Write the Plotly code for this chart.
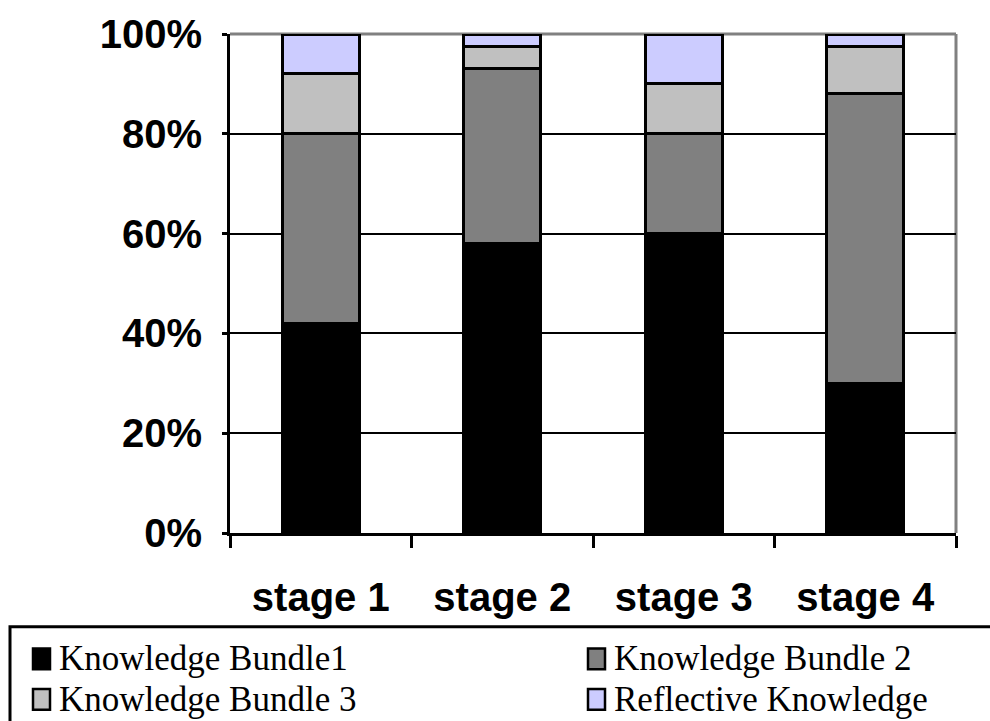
import plotly.graph_objects as go

# Stacked shares per stage (percent)
stages = ["stage 1", "stage 2", "stage 3", "stage 4"]
bundle1 = [42, 58, 60, 30]
bundle2 = [38, 35, 20, 58]
bundle3 = [12, 4.5, 10, 9.5]
reflective = [8, 2.5, 10, 2.5]

series_names = ["Knowledge Bundle1", "Knowledge Bundle 2",
                "Knowledge Bundle 3", "Reflective Knowledge"]
series_colors = ["#000000", "#808080", "#C0C0C0", "#CCCCFF"]
y_ticks = [0, 20, 40, 60, 80, 100]

W, H = 990, 721
ML, MR, MT, MB = 230, 34, 28, 188
PW, PH = W - ML - MR, H - MT - MB


def px_x(x):
    return (x - ML) / PW


def px_y(y):
    return (H - MB - y) / PH


fig = go.Figure()
for name, color, vals in zip(series_names, series_colors,
                             [bundle1, bundle2, bundle3, reflective]):
    fig.add_trace(go.Bar(
        x=stages, y=vals, name=name,
        marker=dict(color=color, line=dict(color="#000000", width=3)),
        showlegend=False,
    ))

shapes = [
    # grey frame along top and right of plot area
    dict(type="line", xref="paper", yref="paper", x0=0, x1=1, y0=1, y1=1,
         line=dict(color="#808080", width=3), layer="between"),
    dict(type="line", xref="paper", yref="paper", x0=1, x1=1, y0=0, y1=1,
         line=dict(color="#808080", width=3), layer="between"),
    # legend frame
    dict(type="rect", xref="paper", yref="paper",
         x0=px_x(10), x1=px_x(1010), y0=px_y(628), y1=px_y(740),
         line=dict(color="#000000", width=3), fillcolor="rgba(0,0,0,0)"),
]
annotations = []

# legend entries laid out in two columns
legend_pos = [(33, 660), (588, 660), (33, 701), (588, 701)]
for (lx, ly), name, color in zip(legend_pos, series_names, series_colors):
    shapes.append(dict(
        type="rect", xref="paper", yref="paper",
        x0=px_x(lx), x1=px_x(lx + 17), y0=px_y(ly + 11), y1=px_y(ly - 10),
        fillcolor=color, line=dict(color="#000000", width=2.5)))
    annotations.append(dict(
        xref="paper", yref="paper", x=px_x(lx + 24), y=px_y(ly),
        xanchor="left", yanchor="middle", text=name, showarrow=False,
        font=dict(family="Liberation Serif, Times New Roman, serif",
                  size=35, color="#000000")))

fig.update_layout(
    barmode="stack",
    bargap=0.576,
    width=W, height=H,
    margin=dict(l=ML, r=MR, t=MT, b=MB, pad=0),
    paper_bgcolor="#FFFFFF",
    plot_bgcolor="#FFFFFF",
    shapes=shapes,
    annotations=annotations,
    font=dict(family="Liberation Sans, Arial, sans-serif", color="#000000"),
)

fig.update_xaxes(
    type="category",
    showline=True, linecolor="#000000", linewidth=3,
    ticks="outside", tickson="boundaries", ticklen=12, tickwidth=3,
    tickcolor="#000000",
    ticklabelstandoff=27,
    tickfont=dict(family="Liberation Sans, Arial, sans-serif", size=40,
                  weight="bold", color="#000000"),
    showgrid=False,
)
fig.update_yaxes(
    range=[0, 100],
    tickvals=y_ticks,
    ticktext=[f"{v}%" for v in y_ticks],
    showline=True, linecolor="#000000", linewidth=3,
    ticks="outside", ticklen=5, tickwidth=3, tickcolor="#000000",
    ticklabelstandoff=12,
    showgrid=True, gridcolor="#000000", gridwidth=2,
    zeroline=False,
    tickfont=dict(family="Liberation Sans, Arial, sans-serif", size=40,
                  weight="bold", color="#000000"),
)

fig.write_html("out.html")
